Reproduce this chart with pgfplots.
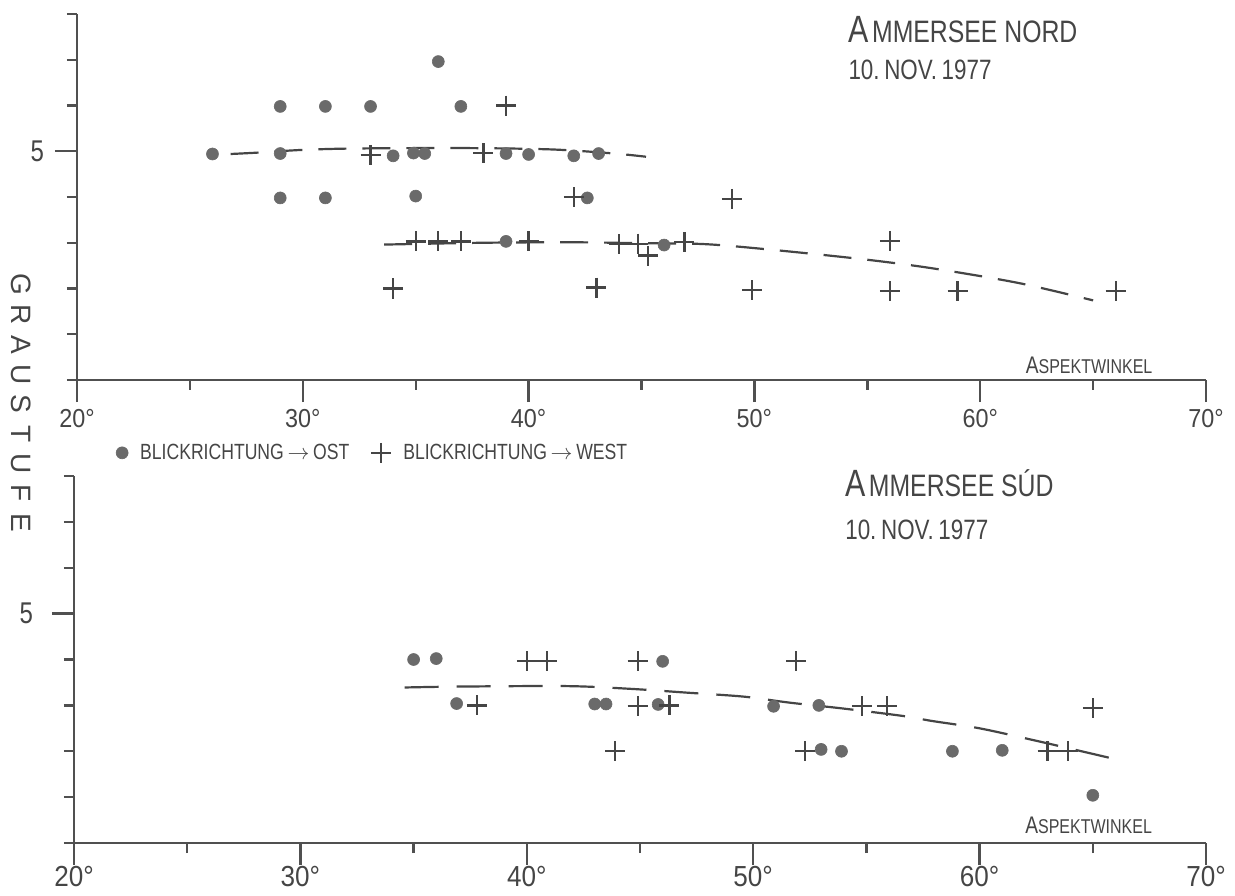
\documentclass[border=0pt]{standalone}
\usepackage{fontspec}
\setmainfont{Liberation Sans}
\newfontfamily\hand[FakeStretch=0.8]{Liberation Sans}
\newfontfamily\handw[FakeStretch=0.9]{Liberation Sans}
\usepackage{pgfplots}
\pgfplotsset{compat=1.18}
\definecolor{ink}{HTML}{454545}
\definecolor{dotc}{HTML}{6A6A6A}
\definecolor{axc}{HTML}{505050}
\newcommand{\fs}[1]{\fontsize{#1}{#1}\selectfont}
\newcommand{\yl}[1]{\makebox[14.9pt]{#1}}

\pgfplotstableread{
x y
26 4.94
29 5.98
29 4.95
29 3.98
31 5.98
31 3.98
33 5.98
34 4.9
34.9 4.96
35.4 4.95
35 4.02
36 6.96
37 5.98
39 4.95
40 4.93
42 4.9
43.1 4.95
42.6 3.98
39 3.03
46 2.95
}\topost
\pgfplotstableread{
x y
33 4.92
38 4.96
39 6
42 4
49 3.96
34 2
35 3.03
36 3.03
37 3.03
40 3.03
44 2.97
44.85 2.98
45.3 2.72
43 2.02
46.9 3.01
49.9 1.96
56 3.04
56 1.94
59 1.94
66 1.94
}\topwest
\pgfplotstableread{
x y
26.8 4.94
28 4.97
30 5.03
32.3 5.06
37 5.07
41 5.04
43.8 4.95
45.2 4.88
}\toptrendA
\pgfplotstableread{
x y
33.6 2.96
38 3.0
42 3.01
45 2.99
47.8 2.97
50.7 2.85
54.8 2.64
57.9 2.44
61.7 2.12
65 1.74
}\toptrendB
\pgfplotstableread{
x y
35 4
36 4.02
36.9 3.04
43 3.03
43.5 3.03
45.8 3.02
46 3.96
50.9 2.98
52.9 3
53 2.04
53.9 2
58.8 2
61 2.02
65 1.04
}\botost
\pgfplotstableread{
x y
37.8 3
40 3.96
40.9 3.96
43.9 2
44.9 3.96
44.9 2.98
46.3 3
51.9 3.96
52.3 2
54.8 2.98
55.9 2.98
63 2
63.9 2
65 2.94
}\botwest
\pgfplotstableread{
x y
34.6 3.39
37 3.41
41.8 3.42
44.6 3.36
47 3.28
49.6 3.19
51.6 3.06
54 2.93
56.6 2.77
57.9 2.66
60 2.5
62.4 2.24
64.5 2.0
65.8 1.85
}\bottrend

\tikzset{lbl/.style={font=\hand, text=ink, inner sep=0pt}}
\pgfplotsset{
  panel/.style={
    scale only axis,
    xmin=20, xmax=70, ymin=0, ymax=8,
    axis x line=bottom, axis y line=left,
    axis line style={axc, line width=1.4pt, -},
    xtick={20,30,...,70}, minor xtick={25,35,...,65},
    xticklabels={20°,30°,40°,50°,60°,70°},
    ytick={5}, yticklabels={5},
    minor ytick={0,1,2,3,4,6,7,8},
    tick align=outside,
    major tick length=11pt, minor tick length=5pt,
    every tick/.style={axc, line width=1.2pt},
    yticklabel style={font=\hand\fs{15}, text=ink, xshift=-2pt},
    clip=false,
  },
  ost/.style={only marks, mark=*, color=dotc, mark size=3pt,
    mark options={fill=dotc, draw=dotc, line width=0.3pt}},
  west/.style={only marks, mark=+, color=ink, mark size=5pt,
    mark options={draw=ink, line width=1.15pt}},
  trend/.style={ink, line width=1.1pt, no marks, smooth, forget plot},
}

\begin{document}
\begin{tikzpicture}
\path[use as bounding box] (0,0) rectangle (617.5pt,447.5pt);

\begin{axis}[panel,
  at={(38.5pt,257.5pt)}, anchor=south west,
  width=564.5pt, height=183pt,
  xticklabel style={font=\handw\fs{13}, text=ink},
  ylabel={\fs{14}\yl{G}\yl{R}\yl{A}\yl{U}\yl{S}\yl{T}\yl{U}\yl{F}\yl{E}},
  ylabel style={at={(axis description cs:-0.0496,-0.0656)}, anchor=center, rotate=180, text=ink, inner sep=0pt},
  legend image code/.code={\draw[#1, mark repeat=1] plot coordinates {(0pt,0pt)};},
  legend style={draw=none, fill=none, at={(axis description cs:0.029,-0.199)}, anchor=west,
    font=\hand\fs{11}, text=ink,
    /tikz/every odd column/.append style={column sep=4pt},
    /tikz/every even column/.append style={column sep=9pt}},
  legend columns=2, legend cell align=left,
]
\addplot[trend, dash pattern=on 14pt off 8pt] table {\toptrendA};
\addplot[trend, dash pattern=on 14pt off 8pt] table {\toptrendB};
\addplot[ost] table {\topost};
\addlegendentry{BLICKRICHTUNG\,$\rightarrow$\,OST}
\addplot[west] table {\topwest};
\addlegendentry{BLICKRICHTUNG\,$\rightarrow$\,WEST}
\node[lbl, anchor=base west] at (axis description cs:0.683,0.923) {{\fs{19}A}\,{\fs{15.5}MMERSEE NORD}};
\node[lbl, anchor=base west] at (axis description cs:0.683,0.82) {\fs{14}10.\,NOV.\,1977};
\node[lbl, anchor=base west] at (axis description cs:0.84,0.019) {{\fs{12}A}{\fs{10}SPEKTWINKEL}};
\end{axis}

\begin{axis}[panel,
  at={(37pt,26pt)}, anchor=south west,
  width=566pt, height=183.5pt,
  xticklabel style={font=\handw\fs{14.5}, text=ink, yshift=3pt},
  yticklabel style={xshift=-4pt},
]
\addplot[trend, dash pattern=on 17pt off 9pt] table {\bottrend};
\addplot[ost] table {\botost};
\addplot[west] table {\botwest};
\node[lbl, anchor=base west] at (axis description cs:0.681,0.943) {{\fs{19}A}\,{\fs{15.5}MMERSEE SÚD}};
\node[lbl, anchor=base west] at (axis description cs:0.681,0.828) {\fs{14}10.\,NOV.\,1977};
\node[lbl, anchor=base west] at (axis description cs:0.84,0.027) {{\fs{12}A}{\fs{10}SPEKTWINKEL}};
\end{axis}
\end{tikzpicture}
\end{document}
